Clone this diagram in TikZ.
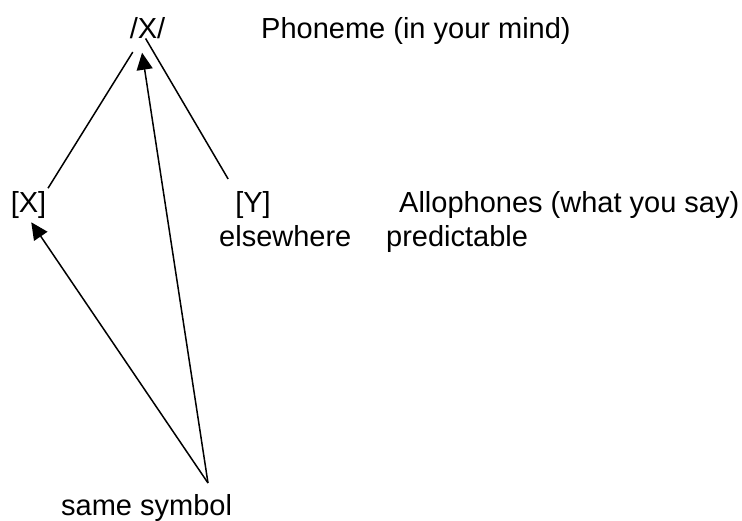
\documentclass[tikz,border=0pt]{standalone}
\usepackage{fontspec}
\setmainfont{Liberation Sans}
\usetikzlibrary{arrows.meta}
\tikzset{>={Triangle[length=17pt,width=16pt]},
  every node/.style={inner sep=0pt,font=\fontsize{29}{34}\selectfont},
  link/.style={draw=black,line width=1.5pt},
  pointer/.style={->,draw=black,line width=1.5pt}}

\begin{document}
\begin{tikzpicture}[x=1pt,y=-1pt]
\useasboundingbox (0,0) rectangle (742,520);
\node[anchor=base] (phon) at (147.5,38) {/X/};
\node[anchor=base west] (phonlbl) at (261,38) {Phoneme (in your mind)};
\node[anchor=base] (allox) at (28.5,212) {[X]};
\node[anchor=base] (alloy) at (253,212) {[Y]};
\node[anchor=base west] (allolbl) at (399,212) {Allophones (what you say)};
\node[anchor=base west] (else) at (219,246) {elsewhere};
\node[anchor=base west] (pred) at (386,246) {predictable};
\node[anchor=base west] (same) at (61,515) {same symbol};
\coordinate (apex) at (208,483);
\draw[link,shorten <=16pt,shorten >=3pt] (phon.240) -- (allox.north east);
\draw[link,shorten >=13.7pt] (phon.260) -- (alloy.north west);
\draw[pointer,shorten >=14.4pt] (apex) -- (phon.235);
\draw[pointer,shorten >=4.9pt] (apex) -- (allox.south);
\end{tikzpicture}
\end{document}
